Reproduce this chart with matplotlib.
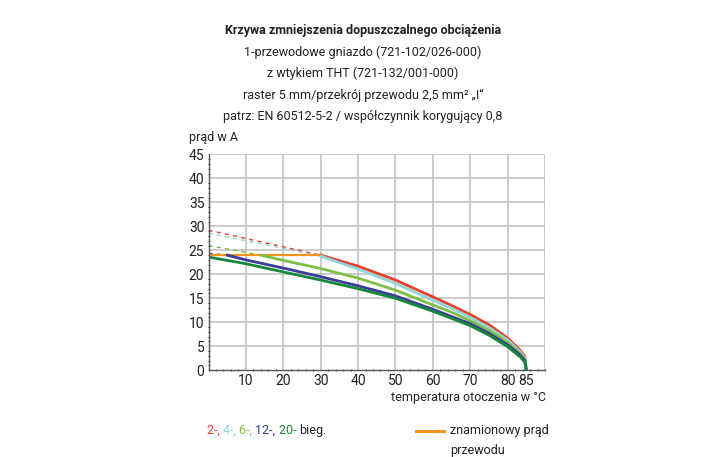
import matplotlib
matplotlib.use('Agg')
from matplotlib import pyplot as plt
from matplotlib.ticker import MultipleLocator

plt.rcParams['font.family'] = ['Roboto', 'DejaVu Sans']

# dane
title_lines = ['Krzywa zmniejszenia dopuszczalnego obciążenia',
               '1-przewodowe gniazdo (721-102/026-000)',
               'z wtykiem THT (721-132/001-000)',
               'raster 5 mm/przekrój przewodu 2,5 mm² „I“',
               'patrz: EN 60512-5-2 / współczynnik korygujący 0,8']

# 2-biegunowe
red_dash_x = [0, 30]
red_dash_y = [29.2, 24.0]
red_x = [30, 40, 50, 60, 65, 70, 75, 80, 83.3, 84.6, 85]
red_y = [24.0, 21.7, 18.8, 15.3, 13.5, 11.6, 9.5, 6.7, 4.2, 2.8, 0]

# 4-biegunowe
cyan_dash_x = [0, 30]
cyan_dash_y = [28.6, 23.8]
cyan_x = [30, 40, 50, 60, 65, 70, 75, 80, 83.3, 84.6, 85]
cyan_y = [23.8, 21.1, 18.1, 14.6, 12.9, 11.0, 8.9, 6.3, 3.9, 2.5, 0]

# 6-biegunowe
lgreen_dash_x = [0, 14]
lgreen_dash_y = [26.0, 24.0]
lgreen_x = [14, 20, 30, 40, 50, 60, 65, 70, 75, 80, 83.3, 84.6, 85]
lgreen_y = [24.0, 22.9, 21.2, 19.2, 16.7, 13.6, 12.1, 10.3, 8.3, 5.8, 3.5, 2.2, 0]

# 12-biegunowe
blue_dash_x = [0, 5]
blue_dash_y = [24.4, 24.0]
blue_x = [5, 10, 20, 30, 40, 50, 60, 65, 70, 75, 80, 83.3, 84.6, 85]
blue_y = [24.0, 23.0, 21.3, 19.5, 17.6, 15.5, 12.7, 11.2, 9.7, 7.7, 5.3, 3.2, 2.0, 0]

# 20-biegunowe
dgreen_x = [0, 10, 20, 30, 40, 50, 60, 65, 70, 75, 80, 83.3, 84.6, 85]
dgreen_y = [23.6, 22.2, 20.5, 18.8, 17.0, 15.0, 12.3, 10.8, 9.3, 7.3, 4.9, 2.8, 1.7, 0]

# prąd znamionowy
rated_x = [0, 30]
rated_y = [24.0, 24.0]

x_ticks = [10, 20, 30, 40, 50, 60, 70, 80, 85]
y_ticks = [0, 5, 10, 15, 20, 25, 30, 35, 40, 45]

c_red = '#e8402c'
c_cyan = '#92d5d6'
c_lgreen = '#7dbf45'
c_blue = '#3b3c97'
c_dgreen = '#18873c'
c_orange = '#f7941d'

fig = plt.figure(figsize=(7.19, 4.57), dpi=100)
ax = fig.add_axes([0.290, 0.190, 0.468, 0.472])

for xv in range(10, 91, 10):
    ax.axvline(xv, color='#c4c4c4', lw=1.2, zorder=0)
for yv in range(5, 46, 5):
    ax.axhline(yv, color='#c4c4c4', lw=1.2, zorder=0)

dash = dict(lw=1.0, ls=(0, (3, 3)))
ax.plot(red_dash_x, red_dash_y, color=c_red, **dash)
ax.plot(cyan_dash_x, cyan_dash_y, color=c_cyan, **dash)
ax.plot(lgreen_dash_x, lgreen_dash_y, color=c_lgreen, **dash)
ax.plot(blue_dash_x, blue_dash_y, color=c_blue, **dash)

ax.plot(rated_x, rated_y, color=c_orange, lw=1.6)
solid = dict(lw=2.0, solid_joinstyle='round')
ax.plot(red_x, red_y, color=c_red, **solid)
ax.plot(cyan_x, cyan_y, color=c_cyan, **solid)
ax.plot(lgreen_x, lgreen_y, color=c_lgreen, **solid)
ax.plot(blue_x, blue_y, color=c_blue, **solid)
ax.plot(dgreen_x, dgreen_y, color=c_dgreen, **solid)

ax.set_xlim(0, 90)
ax.set_ylim(0, 45)
ax.set_xticks(x_ticks)
ax.set_yticks(y_ticks)
ax.xaxis.set_minor_locator(MultipleLocator(2))
ax.yaxis.set_minor_locator(MultipleLocator(1))
ax.tick_params(which='major', length=0, labelsize=10, pad=3, labelcolor='#222222')
ax.tick_params(which='minor', length=2, width=0.8, color='#555555', direction='inout')
for s in ['top', 'right']:
    ax.spines[s].set_visible(False)
for s in ['left', 'bottom']:
    ax.spines[s].set_color('#555555')
    ax.spines[s].set_linewidth(1.0)

ys = [0.934, 0.886, 0.840, 0.792, 0.744]
for i, t in enumerate(title_lines):
    fig.text(0.505, ys[i], t, ha='center', va='center', fontsize=9,
             fontweight='bold' if i == 0 else 'normal', color='#222222')

fig.text(0.263, 0.700, 'prąd w A', ha='left', va='center', fontsize=9, color='#222222')
fig.text(0.760, 0.130, 'temperatura otoczenia w °C', ha='right', va='center', fontsize=9, color='#222222')

# legenda
leg_parts = [('2-, ', c_red), ('4-, ', c_cyan), ('6-, ', c_lgreen),
             ('12-, ', c_blue), ('20- ', c_dgreen), ('bieg.', '#222222')]
xpos = 0.288
for txt, col in leg_parts:
    t = fig.text(xpos, 0.059, txt, ha='left', va='center', fontsize=9, color=col)
    fig.canvas.draw()
    bb = t.get_window_extent()
    xpos += bb.width / fig.bbox.width

fig.add_artist(plt.Line2D([0.578, 0.617], [0.057, 0.057], color=c_orange, lw=2.2))
fig.text(0.626, 0.059, 'znamionowy prąd', ha='left', va='center', fontsize=9, color='#222222')
fig.text(0.626, 0.015, 'przewodu', ha='left', va='center', fontsize=9, color='#222222')

fig.savefig('out.png', dpi=100)
